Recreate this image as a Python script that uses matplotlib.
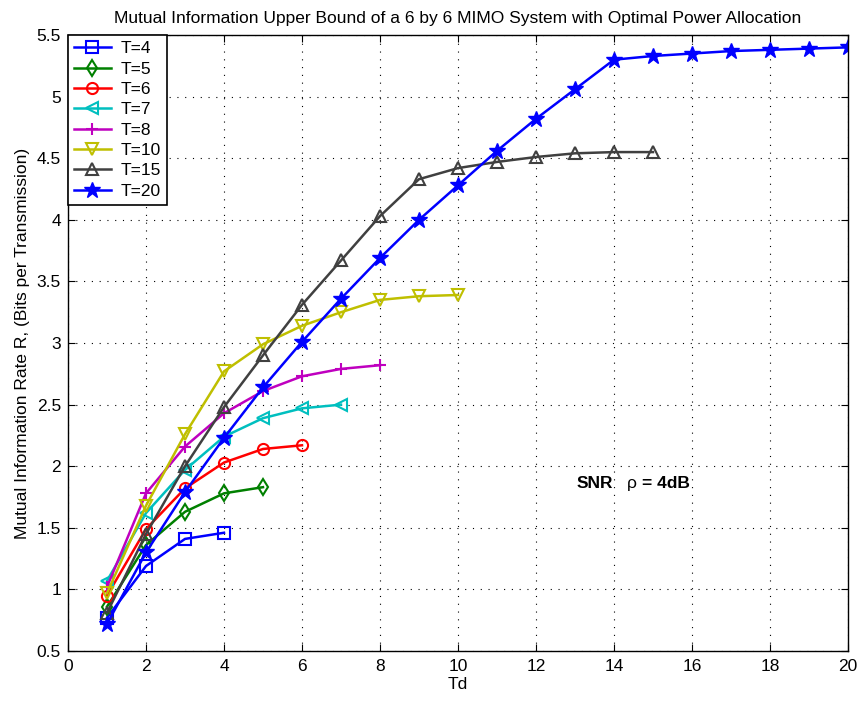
import numpy as np
import matplotlib
matplotlib.use("Agg")
import matplotlib.pyplot as plt

plt.rcParams['font.family'] = ['Liberation Sans', 'DejaVu Sans']

# curves of mutual information vs Td for each block length T
r_t4 = [0.77, 1.19, 1.41, 1.46]
r_t5 = [0.86, 1.36, 1.63, 1.78, 1.83]
r_t6 = [0.95, 1.49, 1.82, 2.03, 2.14, 2.17]
r_t7 = [1.07, 1.62, 1.97, 2.24, 2.39, 2.47, 2.50]
r_t8 = [1.02, 1.78, 2.16, 2.43, 2.61, 2.73, 2.79, 2.82]
r_t10 = [0.97, 1.68, 2.26, 2.77, 2.99, 3.14, 3.25, 3.35, 3.38, 3.39]
r_t15 = [0.81, 1.45, 2.00, 2.48, 2.90, 3.31, 3.67, 4.03, 4.33, 4.42,
         4.47, 4.51, 4.54, 4.55, 4.55]
r_t20 = [0.72, 1.30, 1.79, 2.23, 2.64, 3.01, 3.36, 3.69, 4.00, 4.28,
         4.56, 4.82, 5.06, 5.30, 5.33, 5.35, 5.37, 5.38, 5.39, 5.40]

labels = ["T=4", "T=5", "T=6", "T=7", "T=8", "T=10", "T=15", "T=20"]
series = [r_t4, r_t5, r_t6, r_t7, r_t8, r_t10, r_t15, r_t20]
colors = ["#0000ff", "#008000", "#ff0000", "#00bfbf", "#bf00bf", "#bfbf00", "#404040", "#0000ff"]
markers = ["s", "d", "o", "<", "+", "v", "^", "*"]

fig = plt.figure(figsize=(8.63, 7.01), dpi=100)
ax = fig.add_axes([0.0788, 0.0713, 0.9038, 0.8787])

for y, lab, c, m in zip(series, labels, colors, markers):
    td = np.arange(1, len(y) + 1)
    if m == "*":
        ax.plot(td, y, color=c, marker=m, markersize=12, lw=1.8, label=lab)
    elif m == "+":
        ax.plot(td, y, color=c, marker=m, markersize=9, mew=1.5, lw=1.8, label=lab)
    else:
        ax.plot(td, y, color=c, marker=m, markersize=8, mfc="none", mew=1.5, lw=1.8, label=lab)

ax.set_xlim(0, 20)
ax.set_ylim(0.5, 5.5)
ax.set_xticks(np.arange(0, 21, 2))
ax.set_yticks(np.arange(0.5, 5.51, 0.5))
ax.set_yticklabels(["0.5", "1", "1.5", "2", "2.5", "3", "3.5", "4", "4.5", "5", "5.5"])
ax.tick_params(direction="in", labelsize=12.5, top=True, right=True, length=5)
ax.tick_params(axis="x", pad=6)
ax.tick_params(axis="y", pad=5)
ax.grid(True, color="black", linestyle=(0, (1, 6)), linewidth=0.8)

ax.set_xlabel("Td", fontsize=12.5, labelpad=2)
ax.set_ylabel("Mutual Information Rate R, (Bits per Transmission)", fontsize=12.5, labelpad=5)
ax.set_title("Mutual Information Upper Bound of a 6 by 6 MIMO System with Optimal Power Allocation",
             fontsize=12.5, pad=9)
ax.text(13.05, 1.86, "SNR", fontsize=12.5, fontweight="bold", va="center")
ax.text(14.33, 1.86, "\u03c1", fontsize=12.5, va="center")
ax.text(14.72, 1.86, "= 4dB", fontsize=12.5, fontweight="bold", va="center")

leg = ax.legend(loc="upper left", fontsize=12.5, frameon=True, fancybox=False,
                edgecolor="black", borderaxespad=0.0, handlelength=2.1,
                labelspacing=0.3, borderpad=0.35, handletextpad=0.6, framealpha=1)
leg.get_frame().set_linewidth(1.2)

for s in ax.spines.values():
    s.set_linewidth(1.0)

fig.savefig("out.png", dpi=100)
